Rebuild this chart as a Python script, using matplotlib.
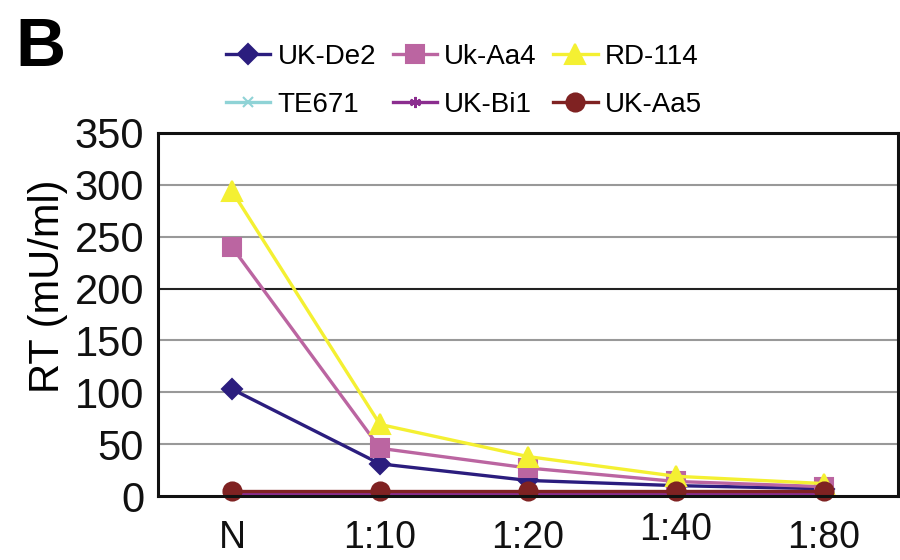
import matplotlib
matplotlib.use("Agg")
import matplotlib.pyplot as plt
import matplotlib.transforms as mtransforms

plt.rcParams["font.family"] = ["Liberation Sans", "DejaVu Sans"]

# ---- data ----
dilutions = ["N", "1:10", "1:20", "1:40", "1:80"]
y_ticks = [0, 50, 100, 150, 200, 250, 300, 350]

uk_de2 = [103, 31, 15, 10, 7]
uk_aa4 = [240, 46, 27, 14, 9]
rd_114 = [294, 69, 38, 19, 12]
te671 = [3, 3, 3, 3, 3]
uk_bi1 = [3, 3, 3, 3, 3]
uk_aa5 = [5, 5, 5, 5, 5]

series = [
    ("UK-De2", uk_de2, "#2b1d7e", "D", 10),
    ("Uk-Aa4", uk_aa4, "#bb65a1", "s", 13),
    ("RD-114", rd_114, "#f4f032", "^", 15),
    ("TE671", te671, "#8fd3d6", "x", 7),
    ("UK-Bi1", uk_bi1, "#8b2d8f", (6, 2, 0), 8),
    ("UK-Aa5", uk_aa5, "#7f2222", "o", 13),
]

fig = plt.figure(figsize=(9, 5.6), dpi=100)
ax = fig.add_axes([158 / 900, 1 - 496 / 560, 740 / 900, 363 / 560])

xs = range(len(dilutions))
handles = {}
for name, vals, color, marker, ms in series:
    (h,) = ax.plot(xs, vals, color=color, lw=2.4, marker=marker, ms=ms,
                   mec=color, mfc=color, mew=1.5, label=name, clip_on=False)
    handles[name] = h

ax.set_xlim(-0.5, 4.5)
ax.set_ylim(0, 350)
ax.set_yticks(y_ticks)
ax.set_xticks(list(xs))
ax.set_xticklabels(dilutions, fontsize=27)
ax.tick_params(axis="both", length=0, colors="#111111")
ax.tick_params(axis="y", labelsize=30, pad=10)
ax.tick_params(axis="x", pad=17)

# 1:40 sits a bit higher than the other labels in the original
lbl = ax.get_xticklabels()[3]
lbl.set_transform(lbl.get_transform() +
                  mtransforms.ScaledTranslation(0, 8 / 100, fig.dpi_scale_trans))

for v in y_ticks[1:-1]:
    c = "#222222" if v == 200 else "#999999"
    ax.axhline(v, color=c, lw=1.5, zorder=0)

for s in ax.spines.values():
    s.set_linewidth(2.2)
    s.set_color("#111111")

ax.set_ylabel("RT (mU/ml)", fontsize=30)
ax.yaxis.set_label_coords(-0.122, 0.578)

fig.text(15 / 900, 1 - 66 / 560, "B", fontsize=50, fontweight="bold")

order = ["UK-De2", "TE671", "Uk-Aa4", "UK-Bi1", "RD-114", "UK-Aa5"]
fig.legend([handles[n] for n in order], order, ncol=3, frameon=False,
           loc="upper left", bbox_to_anchor=(226 / 900, 1 - 44 / 560),
           fontsize=20, handlelength=1.6, handletextpad=0.25,
           columnspacing=0.6, labelspacing=0.78, borderpad=0,
           borderaxespad=0, markerscale=1.0)

fig.savefig("out.png", dpi=100)
